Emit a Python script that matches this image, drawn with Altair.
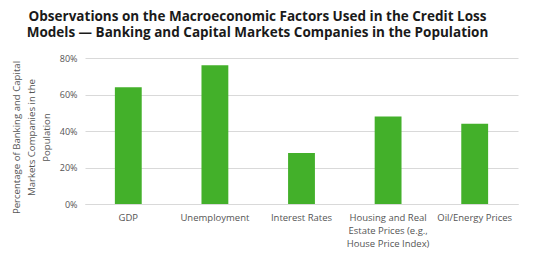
import altair as alt
import pandas as pd

categories = ["GDP", "Unemployment", "Interest Rates",
              "Housing and Real|Estate Prices (e.g.,|House Price Index)",
              "Oil/Energy Prices"]
values = [0.64, 0.76, 0.28, 0.48, 0.44]

df = pd.DataFrame({"factor": categories, "pct": values})

FONT = "Open Sans"

chart = alt.Chart(df).mark_bar(color="#43B02A").encode(
    x=alt.X("factor:N", sort=categories,
            scale=alt.Scale(paddingInner=0.69, paddingOuter=0.345),
            axis=alt.Axis(title=None, labelAngle=0, labelExpr="split(datum.label, '|')",
                          labelFont=FONT, labelFontSize=9.5, labelColor="#555555",
                          labelLineHeight=13, labelPadding=8, ticks=False,
                          domainColor="#d9d9d9", labelBaseline="top")),
    y=alt.Y("pct:Q", scale=alt.Scale(domain=[0, 0.8]),
            axis=alt.Axis(format=".0%", values=[0, 0.2, 0.4, 0.6, 0.8],
                          title=["Percentage of Banking and Capital",
                                 "Markets Companies in the", "Population"],
                          titleFont=FONT, titleFontSize=9.6, titleFontWeight="normal",
                          titleColor="#555555", titleLineHeight=15,
                          labelFont=FONT, labelFontSize=9, labelColor="#555555",
                          labelPadding=8, ticks=False, domain=False,
                          gridColor="#d9d9d9", titlePadding=8, titleY=79)),
).properties(
    width=433, height=146,
    autosize=alt.AutoSizeParams(type="none"),
    padding={"left": 85, "top": 58, "right": 17, "bottom": 51},
    title=alt.TitleParams(
        text=["Observations on the Macroeconomic Factors Used in the Credit Loss",
              "Models — Banking and Capital Markets Companies in the Population"],
        font=FONT, fontSize=13.5, fontWeight="bold", color="#1a1a1a",
        anchor="middle", dx=-44, offset=15, lineHeight=16),
).configure_view(stroke=None)

chart.save("out.html", embed_options={"renderer": "svg", "actions": False})
